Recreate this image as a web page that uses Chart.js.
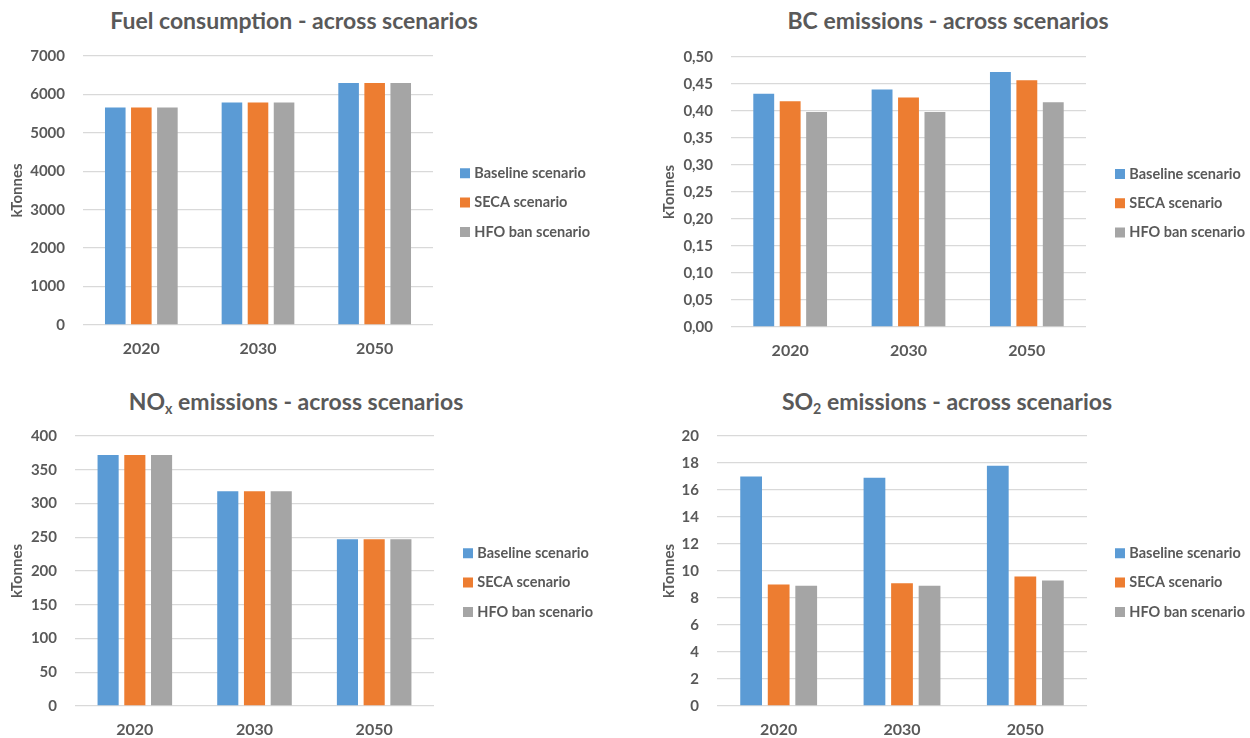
<!DOCTYPE html>
<html>
<head>
<meta charset="utf-8">
<script src="https://cdn.jsdelivr.net/npm/chart.js@4.4.1/dist/chart.umd.min.js"></script>
<style>
  html, body { margin: 0; padding: 0; background: #ffffff; }
  body { width: 1250px; height: 738px; position: relative; overflow: hidden; font-family: Lato, "Open Sans", sans-serif; }
  .panel { position: absolute; }
  .title { position: absolute; font-weight: bold; font-size: 23px; line-height: 28px; color: #595959; white-space: nowrap; transform: translateX(-50%); }
  .title sub { font-size: 0.62em; vertical-align: -0.3em; line-height: 0; }
</style>
</head>
<body>
<div class="title" id="t0" style="left:294px; top:6px;">Fuel consumption - across scenarios</div>
<div class="title" id="t1" style="left:948px; top:6px;">BC emissions - across scenarios</div>
<div class="title" id="t2" style="left:296px; top:387px;">NO<sub>x</sub> emissions - across scenarios</div>
<div class="title" id="t3" style="left:947px; top:387px;">SO<sub>2</sub> emissions - across scenarios</div>

<canvas class="panel" id="c0" width="625" height="369" style="left:0px; top:0px;"></canvas>
<canvas class="panel" id="c1" width="625" height="369" style="left:625px; top:0px;"></canvas>
<canvas class="panel" id="c2" width="625" height="358" style="left:0px; top:380px;"></canvas>
<canvas class="panel" id="c3" width="625" height="358" style="left:625px; top:380px;"></canvas>

<script>
// ---------- data ----------
const categories = ['2020', '2030', '2050'];
const seriesNames = ['Baseline scenario', 'SECA scenario', 'HFO ban scenario'];
const seriesColors = ['#5B9BD5', '#ED7D31', '#A5A5A5'];
const axisTitle = 'kTonnes';

const fuelBaseline = [5660, 5790, 6300];
const fuelSeca     = [5660, 5790, 6300];
const fuelHfoBan   = [5660, 5790, 6300];
const fuelTicks    = [0, 1000, 2000, 3000, 4000, 5000, 6000, 7000];

const bcBaseline = [0.432, 0.440, 0.472];
const bcSeca     = [0.418, 0.425, 0.457];
const bcHfoBan   = [0.398, 0.398, 0.416];
const bcTicks    = [0, 0.05, 0.10, 0.15, 0.20, 0.25, 0.30, 0.35, 0.40, 0.45, 0.50];

const noxBaseline = [372, 318, 247];
const noxSeca     = [372, 318, 247];
const noxHfoBan   = [372, 318, 247];
const noxTicks    = [0, 50, 100, 150, 200, 250, 300, 350, 400];

const so2Baseline = [17.0, 16.9, 17.8];
const so2Seca     = [9.0, 9.1, 9.6];
const so2HfoBan   = [8.9, 8.9, 9.3];
const so2Ticks    = [0, 2, 4, 6, 8, 10, 12, 14, 16, 18, 20];

// ---------- styling / layout ----------
const FONT = 'Lato, "Open Sans", sans-serif';
const TEXT = '#595959';
const GRID = '#D9D9D9';

const panels = [
  { id: 'c0', series: [fuelBaseline, fuelSeca, fuelHfoBan], ticks: fuelTicks, decimals: 0,
    plotLeft: 83, plotRight: 433, plotTop: 56, plotBottom: 325, titleX: 17, legendX: 463, legendY: 173.3 },
  { id: 'c1', series: [bcBaseline, bcSeca, bcHfoBan], ticks: bcTicks, decimals: 2,
    plotLeft: 106, plotRight: 461, plotTop: 57, plotBottom: 327, titleX: 44, legendX: 493, legendY: 174 },
  { id: 'c2', series: [noxBaseline, noxSeca, noxHfoBan], ticks: noxTicks, decimals: 0,
    plotLeft: 75, plotRight: 434, plotTop: 56, plotBottom: 326, titleX: 17, legendX: 466, legendY: 173.3 },
  { id: 'c3', series: [so2Baseline, so2Seca, so2HfoBan], ticks: so2Ticks, decimals: 0,
    plotLeft: 92, plotRight: 462, plotTop: 56, plotBottom: 326, titleX: 44, legendX: 493, legendY: 173.3 }
];

const LEGEND_FONT = 14.5;
const LEGEND_PAD = 14.8;

const placement = {
  id: 'placement',
  beforeLayout(chart, args, opts) {
    const lg = chart.legend;
    if (lg && !lg._patched) {
      const orig = lg.fit;
      lg.fit = function () {
        orig.call(this);
        this.width = opts.legendWidth;
      };
      lg._patched = true;
    }
  },
  afterLayout(chart, args, opts) {
    const lg = chart.legend;
    if (!lg) return;
    const itemH = LEGEND_FONT;
    lg.left = opts.legendX - LEGEND_PAD;
    lg.right = chart.width;
    lg.top = opts.legendY - LEGEND_PAD - itemH / 2;
    lg.bottom = chart.height;
    lg.height = lg.bottom - lg.top;
  }
};

panels.forEach(p => {
  const canvas = document.getElementById(p.id);
  const W = canvas.width, H = canvas.height;
  new Chart(canvas, {
    type: 'bar',
    data: {
      labels: categories,
      datasets: p.series.map((vals, i) => ({
        label: seriesNames[i],
        data: vals,
        backgroundColor: seriesColors[i],
        borderWidth: 0,
        categoryPercentage: 0.67,
        barPercentage: 0.79
      }))
    },
    plugins: [placement],
    options: {
      responsive: false,
      animation: false,
      events: [],
      layout: { padding: { top: p.plotTop, left: 0, right: 0, bottom: 0 } },
      plugins: {
        placement: { legendWidth: W - p.plotRight, legendX: p.legendX, legendY: p.legendY },
        title: { display: false },
        tooltip: { enabled: false },
        legend: {
          position: 'right',
          align: 'start',
          labels: {
            boxWidth: 4, boxHeight: 4, padding: LEGEND_PAD,
            color: TEXT,
            font: { family: FONT, size: LEGEND_FONT, weight: 'bold' },
            generateLabels: chart => Chart.defaults.plugins.legend.labels.generateLabels(chart).map(it => Object.assign(it, {
              lineWidth: 6, strokeStyle: it.fillStyle, lineJoin: 'miter', lineCap: 'butt', lineDash: []
            }))
          }
        }
      },
      scales: {
        x: {
          grid: { display: false, drawTicks: false },
          border: { display: false },
          ticks: { color: TEXT, padding: 14, font: { family: FONT, size: 16, weight: 'bold' } },
          afterFit: s => { s.height = H - p.plotBottom; }
        },
        y: {
          min: p.ticks[0],
          max: p.ticks[p.ticks.length - 1],
          afterBuildTicks: s => { s.ticks = p.ticks.map(v => ({ value: v })); },
          grid: { color: GRID, lineWidth: 1.3, drawTicks: false },
          border: { display: false },
          ticks: {
            color: TEXT, padding: 18,
            font: { family: FONT, size: 15, weight: 'bold' },
            callback: v => Number(v).toFixed(p.decimals).replace('.', ',')
          },
          title: {
            display: true, text: axisTitle, color: TEXT,
            font: { family: FONT, size: 15, weight: 'bold' },
            padding: { top: p.titleX - 9, bottom: 0 }
          },
          afterFit: s => { s.width = p.plotLeft; }
        }
      }
    }
  });
});
</script>
</body>
</html>
